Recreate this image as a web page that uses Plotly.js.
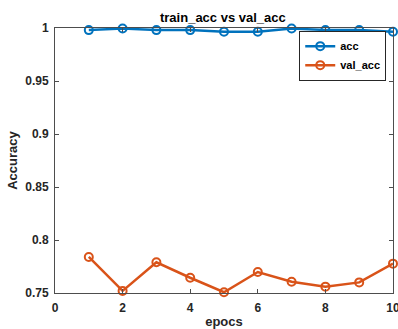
<!DOCTYPE html>
<html><head><meta charset="utf-8">
<script src="https://cdn.plot.ly/plotly-3.0.1.min.js"></script>
<style>html,body{margin:0;padding:0;background:#fff}#chart{width:398px;height:329px}</style>
</head><body><div id="chart"></div>
<script>
const epochs = [1,2,3,4,5,6,7,8,9,10];
const acc = [0.998,0.9995,0.998,0.998,0.9965,0.9965,0.9995,0.998,0.998,0.9965];
const valAcc = [0.784,0.752,0.779,0.7644,0.7507,0.7698,0.7606,0.756,0.760,0.7777];
const xTicks = [0,2,4,6,8,10];
const yTicks = [0.75,0.8,0.85,0.9,0.95,1];
const yTickLabels = ['0.75','0.8','0.85','0.9','0.95','1'];

const fontFam = 'Liberation Sans, Arial, sans-serif';
const traces = [
  {x: epochs, y: acc, name: 'acc', mode: 'lines+markers', cliponaxis: false,
   line: {color: '#0072BD', width: 2.5},
   marker: {symbol: 'circle-open', size: 8, color: '#0072BD', line: {width: 2, color: '#0072BD'}}},
  {x: epochs, y: valAcc, name: 'val_acc', mode: 'lines+markers', cliponaxis: false,
   line: {color: '#D95319', width: 2.5},
   marker: {symbol: 'circle-open', size: 8, color: '#D95319', line: {width: 2, color: '#D95319'}}}
];
const axisCommon = {
  showgrid: false, zeroline: false, showline: true, linecolor: '#4d4d4d', linewidth: 1,
  mirror: 'ticks', ticks: 'inside', ticklen: 4, tickcolor: '#4d4d4d', ticklabeloverflow: 'allow',
  tickfont: {family: fontFam, size: 12, color: '#262626', weight: 'bold'}
};
const layout = {
  width: 398, height: 329,
  margin: {l: 55, r: 5, t: 28, b: 36},
  paper_bgcolor: '#fff', plot_bgcolor: '#fff',
  title: {text: '<b>train_acc vs val_acc</b>', x: 0.56, xanchor: 'center', y: 0.96, yanchor: 'top',
          font: {family: fontFam, size: 13, color: '#000'}},
  xaxis: Object.assign({}, axisCommon, {range: [0, 10], tickvals: xTicks, ticklabelstandoff: 4,
    title: {text: '<b>epocs</b>', font: {family: fontFam, size: 13, color: '#262626'}, standoff: 12}}),
  yaxis: Object.assign({}, axisCommon, {range: [0.75, 1], tickvals: yTicks, ticktext: yTickLabels, ticklabelstandoff: 3,
    title: {text: '<b>Accuracy</b>', font: {family: fontFam, size: 13, color: '#262626'}, standoff: 4}}),
  showlegend: true,
  legend: {x: 0.98, xanchor: 'right', y: 0.99, yanchor: 'top', bgcolor: '#fff',
    bordercolor: '#262626', borderwidth: 1, tracegroupgap: 0, itemwidth: 30,
    font: {family: fontFam, size: 11, color: '#000', weight: 'bold'}}
};
Plotly.newPlot('chart', traces, layout, {displayModeBar: false, staticPlot: true});
</script></body></html>
